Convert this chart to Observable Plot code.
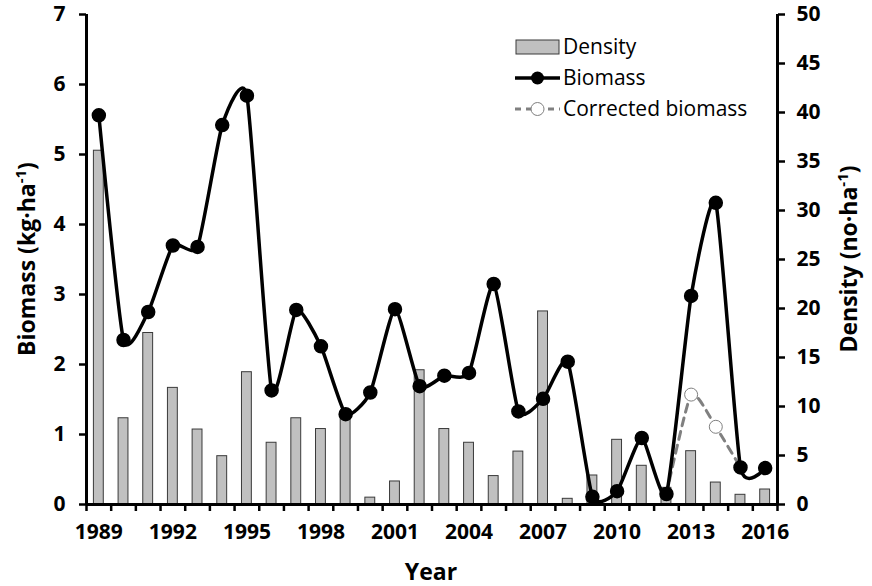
<!DOCTYPE html>
<html><head><meta charset="utf-8">
<script src="https://cdn.jsdelivr.net/npm/d3@7"></script>
<script src="https://cdn.jsdelivr.net/npm/@observablehq/plot@0.6"></script>
<style>
body{margin:0;background:#fff}
#chart{width:872px;height:586px;position:relative}
</style>
</head><body><div id="chart"></div>
<script>
const years = [1989,1990,1991,1992,1993,1994,1995,1996,1997,1998,1999,2000,2001,2002,2003,2004,2005,2006,2007,2008,2009,2010,2011,2012,2013,2014,2015,2016];
const biomass = [5.56,2.35,2.75,3.70,3.68,5.42,5.84,1.63,2.78,2.26,1.29,1.60,2.79,1.69,1.84,1.88,3.15,1.33,1.51,2.04,0.11,0.19,0.95,0.15,2.98,4.31,0.53,0.52];
const density = [36.1,8.8,17.5,11.9,7.65,4.93,13.5,6.3,8.8,7.7,9.1,0.7,2.35,13.7,7.7,6.3,2.9,5.4,19.7,0.58,2.96,6.6,3.95,1.7,5.44,2.24,0.99,1.53];
const correctedYears = [2012,2013,2014,2015];
const correctedBiomass = [0.15,1.57,1.11,0.53];
const biomassTicks = [0,1,2,3,4,5,6,7];
const densityTicks = [0,5,10,15,20,25,30,35,40,45,50];
const yearLabels = [1989,1992,1995,1998,2001,2004,2007,2010,2013,2016];
const biomassMax = 7, densityMax = 50;

const rows = years.map((year, i) => ({year, biomass: biomass[i], density: density[i]}));
const corrected = correctedYears.map((year, i) => ({year, biomass: correctedBiomass[i]}));
const openPts = corrected.filter(d => d.year === 2013 || d.year === 2014);
const xDomain = [years[0] - 0.5, years[years.length - 1] + 0.5];
const bounds = d3.range(xDomain[0], xDomain[1] + 0.01, 1);
const toB = d => d * biomassMax / densityMax;

const font = "'Open Sans', 'DejaVu Sans', sans-serif";
const plot = Plot.plot({
  width: 872, height: 586,
  marginLeft: 86, marginRight: 95, marginTop: 14, marginBottom: 82,
  style: {fontFamily: font, fontSize: "20px", fontWeight: "bold", color: "#000", background: "#fff", overflow: "visible"},
  x: {domain: xDomain},
  y: {domain: [0, biomassMax]},
  marks: [
    Plot.rectY(rows, {x1: d => d.year - 0.2, x2: d => d.year + 0.2, y1: 0, y2: d => toB(d.density), fill: "#c0c0c0", stroke: "#3a3a3a", strokeWidth: 1}),
    Plot.line(corrected, {x: "year", y: "biomass", curve: "cardinal", tension: 0.45, stroke: "#808080", strokeWidth: 3, strokeDasharray: "8,6"}),
    Plot.line(rows, {x: "year", y: "biomass", curve: "cardinal", tension: 0.45, stroke: "#000", strokeWidth: 3.5}),
    Plot.dot(rows, {x: "year", y: "biomass", r: 6.5, fill: "#000", stroke: "#000"}),
    Plot.dot(openPts, {x: "year", y: "biomass", r: 6.5, fill: "#fff", stroke: "#808080", strokeWidth: 1}),
    Plot.ruleY([0], {stroke: "#000", strokeWidth: 3}),
    Plot.ruleX([xDomain[0]], {stroke: "#000", strokeWidth: 3}),
    Plot.ruleX([xDomain[1]], {stroke: "#000", strokeWidth: 3}),
    Plot.axisY(biomassTicks, {anchor: "left", tickSize: 7, tickPadding: 14, strokeWidth: 2.5, label: null, fontSize: 21, tickFormat: d => String(d)}),
    Plot.axisY(densityTicks, {anchor: "right", y: toB, tickFormat: d => String(d), tickSize: 7, tickPadding: 12, strokeWidth: 2.5, label: null, fontSize: 21}),
    Plot.axisX(bounds, {anchor: "bottom", tickSize: 7, strokeWidth: 2.5, tickFormat: () => "", label: null}),
    Plot.axisX(yearLabels, {anchor: "bottom", tickSize: 0, tickPadding: 20, tickFormat: d => String(d), label: null, fontSize: 21})
  ]
});

const svg = d3.select(plot);
// axis titles
function rotLabel(x, y, main, unit) {
  const t = svg.append("text").attr("transform", `translate(${x},${y}) rotate(-90)`)
    .attr("text-anchor", "middle").attr("font-family", font).attr("font-size", 23).attr("font-weight", "bold").attr("dy", "0.35em");
  t.append("tspan").text(main + " (" + unit);
  t.append("tspan").attr("font-size", 15).attr("dy", "-0.6em").text("-1");
  t.append("tspan").attr("dy", "0.4em").text(")");
}
rotLabel(27, 259, "Biomass", "kg·ha");
rotLabel(849, 259, "Density", "no·ha");
svg.append("text").attr("x", 431).attr("y", 580).attr("text-anchor", "middle")
  .attr("font-family", font).attr("font-size", 23).attr("font-weight", "bold").text("Year");

// legend
const lg = svg.append("g").attr("font-family", font).attr("font-size", 21).attr("font-weight", "normal").attr("text-anchor", "start");
lg.append("rect").attr("x", 516).attr("y", 40).attr("width", 43).attr("height", 14).attr("fill", "#c0c0c0").attr("stroke", "#3a3a3a");
lg.append("text").attr("x", 563).attr("y", 47).attr("dy", "0.35em").text("Density");
lg.append("line").attr("x1", 515).attr("x2", 560).attr("y1", 78).attr("y2", 78).attr("stroke", "#000").attr("stroke-width", 3.5);
lg.append("circle").attr("cx", 537.5).attr("cy", 78).attr("r", 6.5).attr("fill", "#000");
lg.append("text").attr("x", 563).attr("y", 78).attr("dy", "0.35em").text("Biomass");
lg.append("line").attr("x1", 515).attr("x2", 560).attr("y1", 109).attr("y2", 109).attr("stroke", "#808080").attr("stroke-width", 3).attr("stroke-dasharray", "6,5");
lg.append("circle").attr("cx", 537.5).attr("cy", 109).attr("r", 6.5).attr("fill", "#fff").attr("stroke", "#808080");
lg.append("text").attr("x", 563).attr("y", 109).attr("dy", "0.35em").text("Corrected biomass");

document.getElementById("chart").appendChild(plot);
</script>
</body></html>
